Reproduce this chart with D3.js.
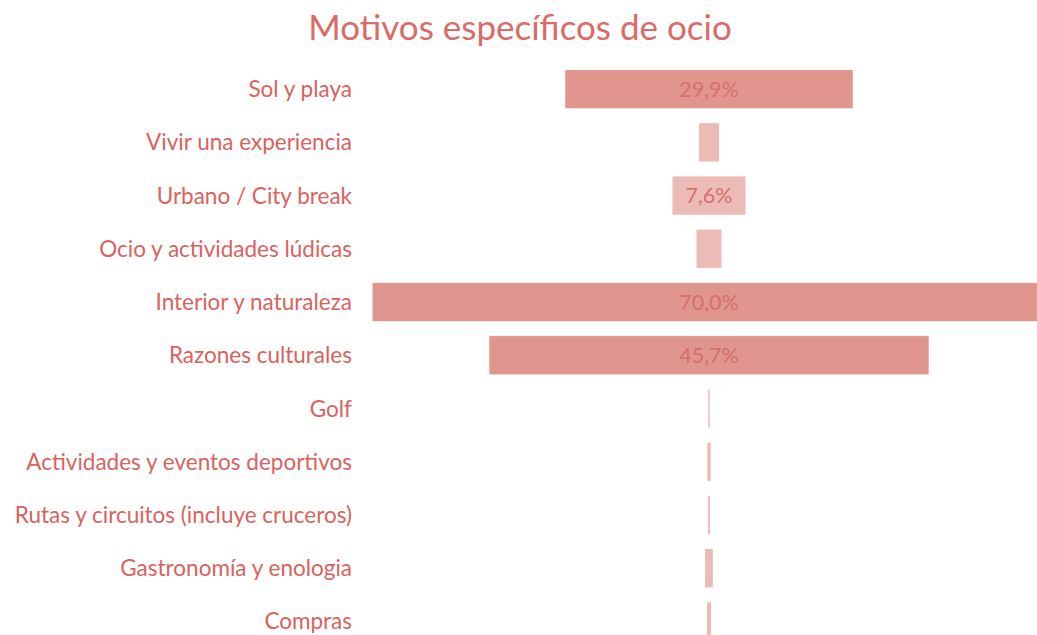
<!DOCTYPE html>
<html>
<head>
<meta charset="utf-8">
<script src="https://cdn.jsdelivr.net/npm/d3@7"></script>
<style>
    body { margin: 0; background: #fff; }
    svg { display: block; }
</style>
</head>
<body>
<div id="chart"></div>
<script>

//******************************************************************************
//**  Data
//******************************************************************************
var title = "Motivos específicos de ocio";

var categories = [
    "Sol y playa",
    "Vivir una experiencia",
    "Urbano / City break",
    "Ocio y actividades lúdicas",
    "Interior y naturaleza",
    "Razones culturales",
    "Golf",
    "Actividades y eventos deportivos",
    "Rutas y circuitos (incluye cruceros)",
    "Gastronomía y enologia",
    "Compras"
];

var values = [29.9, 2.1, 7.6, 2.6, 70.0, 45.7, 0.15, 0.35, 0.2, 0.8, 0.4];


//******************************************************************************
//**  Chart
//******************************************************************************
var width = 1037, height = 635;
var centerX = 709;    //bars are centered on this line
var labelX = 352;     //right edge of category labels
var font = "Lato, 'Open Sans', sans-serif";

var svg = d3.select("#chart").append("svg")
    .attr("width", width)
    .attr("height", height);

var data = categories.map(function(c, i){
    return { key: c, value: values[i] };
});


//Scales
var y = d3.scaleBand()
    .domain(categories)
    .range([62.5, 648])
    .paddingInner(0.28)
    .paddingOuter(0.14);

var w = d3.scaleLinear()
    .domain([0, 70])
    .range([0, 673]);

var fill = d3.scaleThreshold()
    .domain([20])
    .range(["#ecbbb8", "#e0958f"]);

var fmt = function(v){
    return d3.format(".1f")(v).replace(".", ",") + "%";
};


//Title
svg.append("text")
    .attr("x", 520)
    .attr("y", 40)
    .attr("text-anchor", "middle")
    .style("font-family", font)
    .style("font-size", "35px")
    .style("fill", "#dc6b67")
    .text(title);


//Bars
svg.selectAll("rect.bar")
    .data(data)
    .enter().append("rect")
    .attr("class", "bar")
    .attr("x", function(d){ return centerX - w(d.value)/2; })
    .attr("y", function(d){ return y(d.key); })
    .attr("width", function(d){ return w(d.value); })
    .attr("height", y.bandwidth())
    .attr("fill", function(d){ return fill(d.value); });


//Value labels (only on the wider bars)
svg.selectAll("text.value")
    .data(data.filter(function(d){ return d.value >= 5; }))
    .enter().append("text")
    .attr("class", "value")
    .attr("x", centerX)
    .attr("y", function(d){ return y(d.key) + y.bandwidth()/2; })
    .attr("dy", "0.36em")
    .attr("text-anchor", "middle")
    .style("font-family", font)
    .style("font-size", "21.5px")
    .style("fill", "#d5706c")
    .text(function(d){ return fmt(d.value); });


//Category labels
svg.selectAll("text.label")
    .data(data)
    .enter().append("text")
    .attr("class", "label")
    .attr("x", labelX)
    .attr("y", function(d){ return y(d.key) + y.bandwidth()/2; })
    .attr("dy", "0.36em")
    .attr("text-anchor", "end")
    .style("font-family", font)
    .style("font-size", "22.5px")
    .style("fill", "#d9625e")
    .text(function(d){ return d.key; });

</script>
</body>
</html>
